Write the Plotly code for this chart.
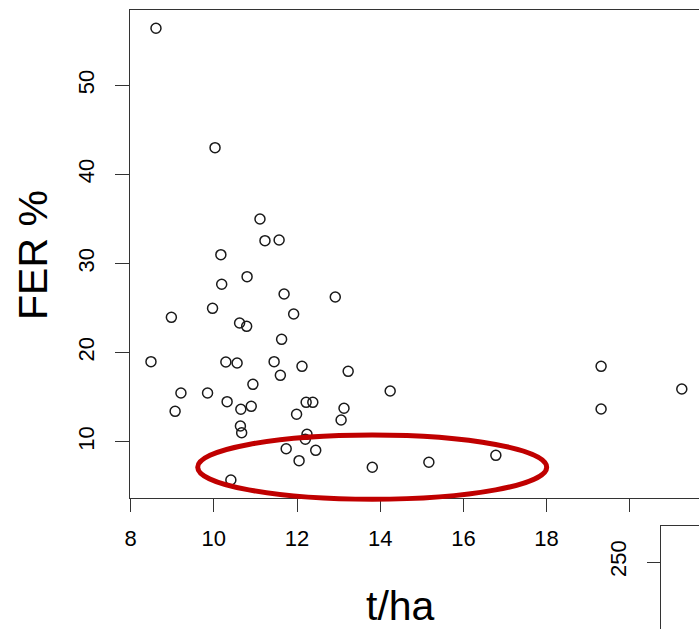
import plotly.graph_objects as go

# Data (t/ha vs FER %)
yield_tha = [8.61, 10.03, 11.11, 11.23, 11.57, 10.17, 10.80, 10.19, 11.69, 12.92,
             9.97, 8.98, 11.92, 10.62, 10.79, 11.63, 8.49, 10.29, 10.56, 11.45,
             12.12, 11.60, 13.23, 10.94, 9.21, 9.85, 14.24, 10.32, 10.90, 10.65,
             12.22, 12.38, 9.07, 11.99, 13.13, 13.06, 10.64, 10.67, 12.24, 12.20,
             11.74, 12.45, 12.05, 13.81, 10.41, 15.17, 16.78, 19.31, 19.31, 21.25]
fer_pct = [56.40, 43.00, 35.00, 32.56, 32.64, 30.99, 28.52, 27.67, 26.58, 26.24,
           24.97, 23.96, 24.33, 23.32, 22.95, 21.49, 18.98, 18.95, 18.83, 18.98,
           18.46, 17.45, 17.90, 16.44, 15.47, 15.47, 15.69, 14.49, 13.97, 13.64,
           14.42, 14.42, 13.41, 13.08, 13.75, 12.44, 11.76, 11.01, 10.83, 10.27,
           9.21, 9.03, 7.87, 7.13, 5.70, 7.69, 8.47, 18.46, 13.67, 15.91]

x_ticks = [8, 10, 12, 14, 16, 18, 20]
x_ticktext = ["8", "10", "12", "14", "16", "18", ""]
y_ticks = [10, 20, 30, 40, 50]
inset_ticks = [250]

W, H = 699, 629
FONT = "Liberation Sans, Arial, sans-serif"
AX = "#333333"

def px_x(p):
    return p / W

def px_y(p):
    return 1 - p / H

fig = go.Figure()
fig.add_trace(go.Scatter(
    x=yield_tha, y=fer_pct, mode="markers",
    marker=dict(symbol="circle-open", size=10, color="#1a1a1a",
                line=dict(width=1.5, color="#1a1a1a")),
    xaxis="x", yaxis="y", showlegend=False, hoverinfo="skip"))
fig.add_trace(go.Scatter(x=[], y=[], xaxis="x2", yaxis="y2", showlegend=False))

# main axes: x = 8 at px 130.6, 41.6 px/unit ; y = 10 at px 441.7, 8.91 px/unit
x_left_px, x_right_px = 129.5, 699
y_top_px, y_bot_px = 10, 498
xr = [8 - (130.6 - x_left_px) / 41.6, 8 + (x_right_px - 130.6) / 41.6]
yr = [10 - (y_bot_px - 441.7) / 8.91, 10 + (441.7 - y_top_px) / 8.91]

fig.update_layout(
    width=W, height=H, autosize=False,
    margin=dict(l=0, r=0, t=0, b=0, pad=0),
    paper_bgcolor="white", plot_bgcolor="white",
    font=dict(family=FONT, color="black"),
    xaxis=dict(domain=[px_x(x_left_px), 1], range=xr, anchor="y",
               showgrid=False, zeroline=False, showline=True, mirror=True,
               linecolor=AX, linewidth=1, ticks="outside", ticklen=13,
               tickwidth=1, tickcolor=AX, tickvals=x_ticks, ticktext=x_ticktext,
               tickfont=dict(size=22, family=FONT, color="black"),
               ticklabelstandoff=8, automargin=False),
    yaxis=dict(domain=[px_y(y_bot_px), px_y(y_top_px)], range=yr, anchor="x",
               showgrid=False, zeroline=False, showline=True, mirror=False,
               linecolor=AX, linewidth=1, ticks="outside", ticklen=14,
               tickwidth=1, tickcolor=AX, tickvals=y_ticks, tickangle=-90,
               tickfont=dict(size=22, family=FONT, color="black"),
               ticklabelstandoff=12, automargin=False),
    xaxis2=dict(domain=[px_x(660.7), 1], range=[0, 1], anchor="y2",
                showgrid=False, zeroline=False, showline=True, mirror=True,
                linecolor=AX, linewidth=1, showticklabels=False, ticks="",
                automargin=False),
    yaxis2=dict(domain=[0, px_y(525.7)], range=[250 - (H - 562), 250 + (562 - 525.7)],
                anchor="x2", showgrid=False, zeroline=False, showline=True,
                mirror=False, linecolor=AX, linewidth=1, ticks="outside",
                ticklen=13, tickwidth=1, tickcolor=AX, tickvals=inset_ticks,
                tickangle=-90, tickfont=dict(size=22, family=FONT, color="black"),
                ticklabelstandoff=12, automargin=False),
    shapes=[dict(type="circle", xref="paper", yref="paper",
                 x0=px_x(197.7), x1=px_x(546.7), y0=px_y(499.3), y1=px_y(435),
                 line=dict(color="#c00000", width=5), layer="above")],
    annotations=[
        dict(text="FER %", xref="paper", yref="paper", x=px_x(33), y=px_y(255),
             xanchor="center", yanchor="middle", textangle=-90, showarrow=False,
             font=dict(size=41, family=FONT, color="black")),
        dict(text="t/ha", xref="paper", yref="paper", x=px_x(400), y=px_y(606),
             xanchor="center", yanchor="middle", showarrow=False,
             font=dict(size=41, family=FONT, color="black")),
    ],
)

fig.write_html("out.html", config={"displayModeBar": False})
